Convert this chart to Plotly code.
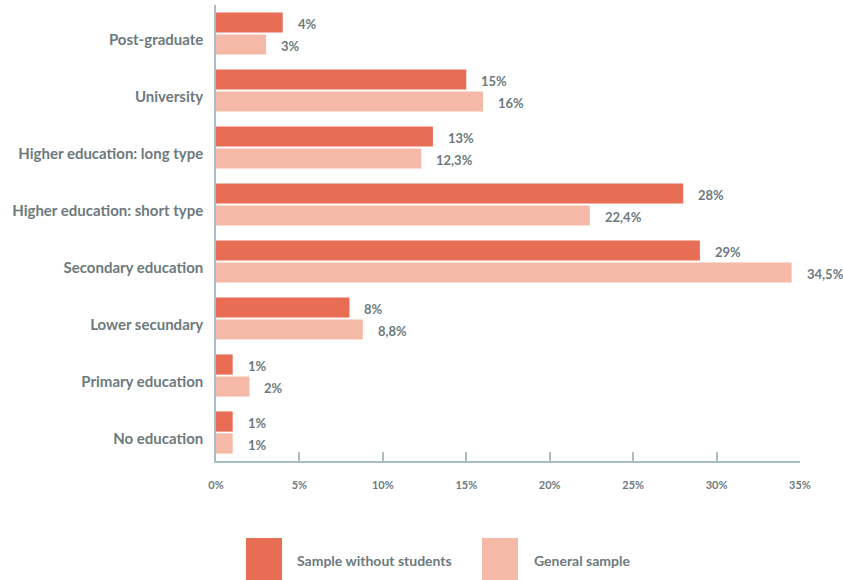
import plotly.graph_objects as go

# Education level distribution, two samples
categories = [
    "Post-graduate",
    "University",
    "Higher education: long type",
    "Higher education: short type",
    "Secondary education",
    "Lower secundary",
    "Primary education",
    "No education",
]
without_students = [4, 15, 13, 28, 29, 8, 1, 1]
general_sample = [3, 16, 12.3, 22.4, 34.5, 8.8, 2, 1]
series_names = ["Sample without students", "General sample"]
tick_values = [0, 5, 10, 15, 20, 25, 30, 35]

DARK = "#E86D55"
LIGHT = "#F5BAA7"
TEXT = "#6C7A7E"
AXIS = "#A9BDC5"
FONT = "Lato"

W, H = 843, 580
L, R, T, B = 216, 43, 5, 119


def fmt(v):
    return f"{v:g}".replace(".", ",") + "%"


def px_x(p):
    return (p - L) / (W - L - R)


def px_y(p):
    return (H - B - p) / (H - T - B)


fig = go.Figure()
for name, vals, col in [(series_names[0], without_students, DARK),
                        (series_names[1], general_sample, LIGHT)]:
    fig.add_trace(go.Bar(
        y=categories, x=vals, name=name, orientation="h",
        marker=dict(color=col, line=dict(width=0)),
        showlegend=False, hoverinfo="skip",
    ))

# value labels next to each bar
for vals, dy in [(without_students, 11), (general_sample, -11)]:
    for c, v in zip(categories, vals):
        fig.add_annotation(
            x=v, y=c, text=fmt(v), showarrow=False,
            xanchor="left", yanchor="middle", xshift=13, yshift=dy - 1,
            font=dict(family=FONT, size=13, color=TEXT, weight=700),
        )

# legend swatches and captions
for (x0, x1, tx), name, col in [((246, 282, 295), series_names[0], DARK),
                                ((482, 518, 532), series_names[1], LIGHT)]:
    fig.add_shape(type="rect", xref="paper", yref="paper",
                  x0=px_x(x0), x1=px_x(x1), y0=px_y(538), y1=px_y(581),
                  fillcolor=col, line=dict(width=0), layer="above")
    fig.add_annotation(xref="paper", yref="paper", x=px_x(tx), y=px_y(560),
                       text=name, showarrow=False, xanchor="left",
                       yanchor="middle",
                       font=dict(family=FONT, size=14, color=TEXT, weight=700))

fig.update_layout(
    width=W, height=H,
    margin=dict(l=L, r=R, t=T, b=B, pad=0),
    paper_bgcolor="white", plot_bgcolor="white",
    barmode="group", bargap=0.23, bargroupgap=0.08,
    font=dict(family=FONT, color=TEXT),
    xaxis=dict(
        range=[0, 35], tickvals=tick_values,
        ticktext=[f"{t}%" for t in tick_values],
        showgrid=False, zeroline=False,
        showline=True, linecolor=AXIS, linewidth=1.5,
        ticks="inside", ticklen=9, tickwidth=1.5, tickcolor=AXIS,
        tickfont=dict(family=FONT, size=11, color=TEXT, weight=700),
        ticklabelstandoff=13,
    ),
    yaxis=dict(
        autorange="reversed", showgrid=False, zeroline=False,
        showline=True, linecolor=AXIS, linewidth=1.5,
        ticks="", ticklabelstandoff=8, ticklabelshift=-6,
        tickfont=dict(family=FONT, size=15, color=TEXT, weight=700),
    ),
)

fig.write_html("out.html")
